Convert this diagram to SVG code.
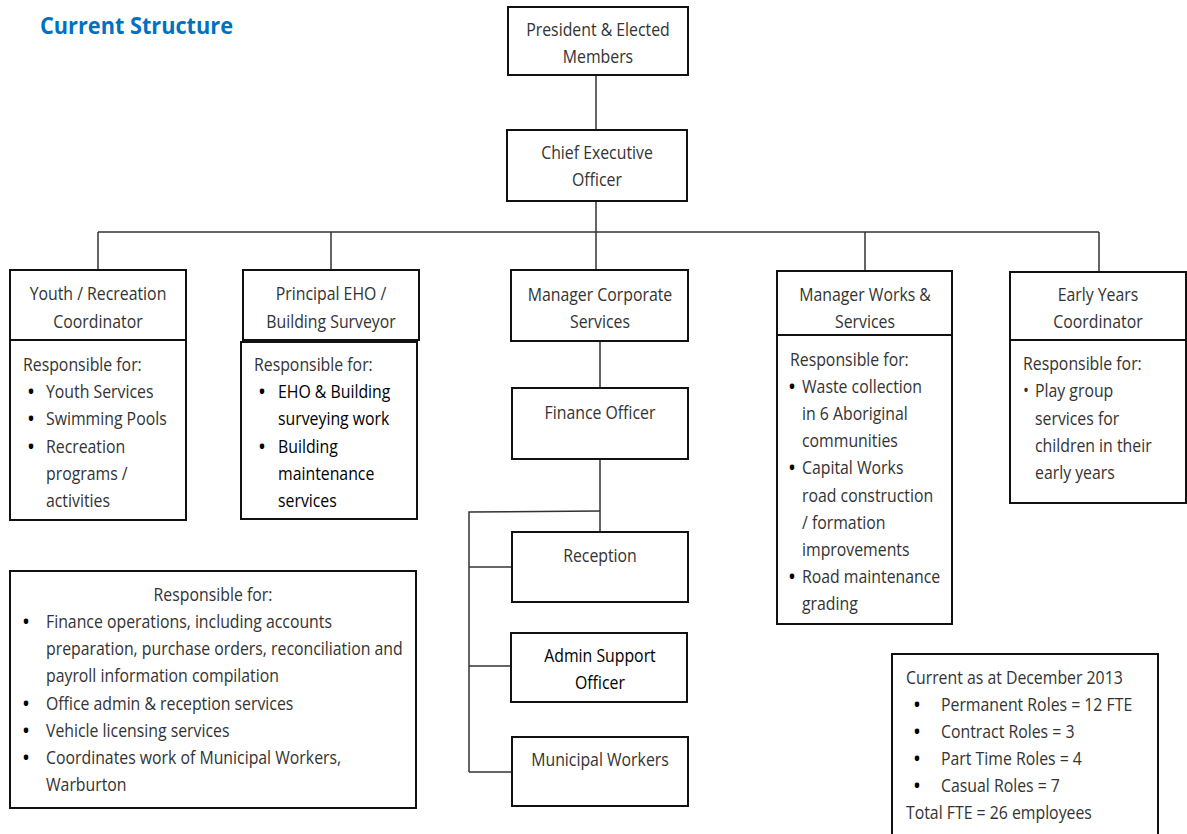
<svg xmlns="http://www.w3.org/2000/svg" width="1187" height="834" viewBox="0 0 1187 834">
<style>
text{font-family:"Open Sans","Liberation Sans",sans-serif;font-size:18px;fill:#333;transform-box:fill-box;transform-origin:0% 50%;transform:scaleX(0.88)}
.c{text-anchor:middle;transform-origin:50% 50%}
.b{fill:#000}
.d{font-weight:bold;fill:#000}
.t{font-size:24px;font-weight:bold;fill:#0070C0;transform:scaleX(0.905)}
rect{fill:#fff;stroke:#111;stroke-width:2}
.con line,.con path{stroke:#333;stroke-width:1.5;fill:none}
</style>
<rect x="0" y="0" width="1187" height="834" style="stroke:none"/>
<text class="t" x="40" y="34">Current Structure</text>
<g class="con">
<line x1="596" y1="75" x2="596" y2="130"/>
<line x1="596" y1="201" x2="596" y2="270"/>
<line x1="98" y1="232" x2="1099" y2="232"/>
<line x1="98" y1="232" x2="98" y2="270"/>
<line x1="331" y1="232" x2="331" y2="270"/>
<line x1="865" y1="232" x2="865" y2="271"/>
<line x1="1099" y1="232" x2="1099" y2="272"/>
<line x1="600" y1="341" x2="600" y2="388"/>
<line x1="600" y1="459" x2="600" y2="532"/>
<path d="M600 511 L469 512 L469 772"/>
<line x1="469" y1="567" x2="512" y2="567"/>
<line x1="469" y1="666" x2="511" y2="666"/>
<line x1="469" y1="772" x2="512" y2="772"/>
</g>
<g id="president"><rect x="508" y="7" width="180" height="68"/><text class="c" x="598" y="36">President &amp; Elected</text><text class="c" x="598" y="63">Members</text></g>
<g id="ceo"><rect x="507" y="130" width="180" height="71"/><text class="c" x="597" y="159">Chief Executive</text><text class="c" x="597" y="186">Officer</text></g>
<g id="youth"><rect x="10" y="270" width="176" height="70"/><rect x="10" y="340" width="176" height="180"/>
<text class="c" x="98" y="300">Youth / Recreation</text><text class="c" x="98" y="328">Coordinator</text>
<text x="23" y="371">Responsible for:</text>
<text class="d" x="28" y="398">•</text><text x="46" y="398">Youth Services</text>
<text class="d" x="28" y="425">•</text><text x="46" y="425">Swimming Pools</text>
<text class="d" x="28" y="453">•</text><text x="46" y="453">Recreation</text>
<text x="46" y="480">programs /</text><text x="46" y="507">activities</text></g>
<g id="eho"><rect x="243" y="270" width="176" height="70"/><rect x="241" y="342" width="176" height="177"/>
<text class="c" x="331" y="300">Principal EHO /</text><text class="c" x="331" y="328">Building Surveyor</text>
<text x="254" y="371">Responsible for:</text>
<text class="d" x="259" y="398">•</text><text class="b" x="278" y="398">EHO &amp; Building</text>
<text class="b" x="278" y="425">surveying work</text>
<text class="d" x="259" y="453">•</text><text class="b" x="278" y="453">Building</text>
<text class="b" x="278" y="480">maintenance</text><text class="b" x="278" y="507">services</text></g>
<g id="mcs"><rect x="511" y="270" width="177" height="71"/><text class="c" x="600" y="301">Manager Corporate</text><text class="c" x="600" y="328">Services</text></g>
<g id="finance"><rect x="512" y="388" width="176" height="71"/><text class="c" x="600" y="419">Finance Officer</text></g>
<g id="reception"><rect x="512" y="532" width="176" height="70"/><text class="c" x="600" y="562">Reception</text></g>
<g id="admin"><rect x="511" y="633" width="176" height="69"/><text class="c b" x="600" y="662">Admin Support</text><text class="c b" x="600" y="689">Officer</text></g>
<g id="municipal"><rect x="512" y="737" width="176" height="69"/><text class="c" x="600" y="766">Municipal Workers</text></g>
<g id="works"><rect x="777" y="271" width="175" height="64"/><rect x="777" y="335" width="175" height="289"/>
<text class="c" x="865" y="301">Manager Works &amp;</text><text class="c" x="865" y="328">Services</text>
<text x="790" y="366">Responsible for:</text>
<text class="d" x="789" y="393">•</text><text x="802" y="393">Waste collection</text>
<text x="802" y="420">in 6 Aboriginal</text><text x="802" y="447">communities</text>
<text class="d" x="789" y="474">•</text><text x="802" y="474">Capital Works</text>
<text x="802" y="502">road construction</text><text x="802" y="529">/ formation</text><text x="802" y="556">improvements</text>
<text class="d" x="789" y="583">•</text><text x="802" y="583">Road maintenance</text>
<text x="802" y="610">grading</text></g>
<g id="early"><rect x="1010" y="272" width="176" height="68"/><rect x="1010" y="340" width="176" height="163"/>
<text class="c" x="1098" y="301">Early Years</text><text class="c" x="1098" y="328">Coordinator</text>
<text x="1023" y="370">Responsible for:</text>
<text x="1023" y="397">•</text><text x="1035" y="397">Play group</text>
<text x="1035" y="425">services for</text><text x="1035" y="452">children in their</text><text x="1035" y="479">early years</text></g>
<g id="corp-resp"><rect x="10" y="571" width="406" height="237"/>
<text class="c" x="213" y="601">Responsible for:</text>
<text class="d" x="23" y="628">•</text><text x="46" y="628">Finance operations, including accounts</text>
<text x="46" y="655">preparation, purchase orders, reconciliation and</text>
<text x="46" y="682">payroll information compilation</text>
<text class="d" x="23" y="710">•</text><text x="46" y="710">Office admin &amp; reception services</text>
<text class="d" x="23" y="737">•</text><text x="46" y="737">Vehicle licensing services</text>
<text class="d" x="23" y="764">•</text><text x="46" y="764">Coordinates work of Municipal Workers,</text>
<text x="46" y="791">Warburton</text></g>
<g id="stats"><rect x="892" y="654" width="266" height="190"/>
<text x="906" y="684">Current as at December 2013</text>
<text class="d" x="914" y="711">•</text><text x="941" y="711">Permanent Roles = 12 FTE</text>
<text class="d" x="914" y="738">•</text><text x="941" y="738">Contract Roles = 3</text>
<text class="d" x="914" y="765">•</text><text x="941" y="765">Part Time Roles = 4</text>
<text class="d" x="914" y="792">•</text><text x="941" y="792">Casual Roles = 7</text>
<text x="906" y="819">Total FTE = 26 employees</text></g>
</svg>
